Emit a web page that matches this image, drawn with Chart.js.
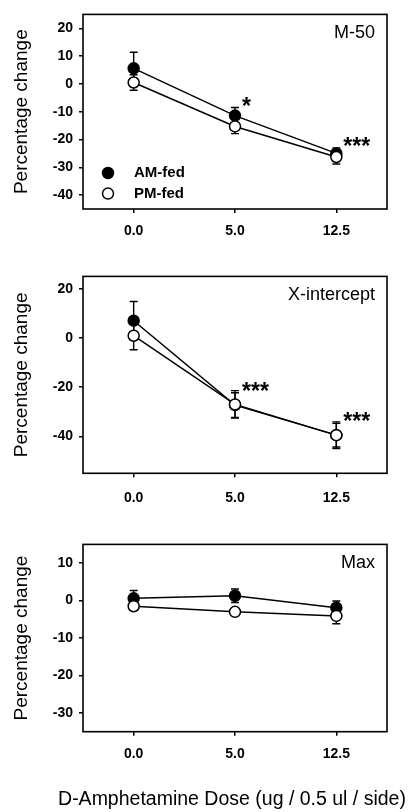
<!DOCTYPE html>
<html>
<head>
<meta charset="utf-8">
<script src="https://cdn.jsdelivr.net/npm/chart.js@4"></script>
<style>
  body { margin: 0; background: #fff; width: 408px; height: 812px; overflow: hidden; position: relative; }
  canvas { position: absolute; left: 0; }
</style>
</head>
<body>
<canvas id="m50" width="408" height="262" style="top:0px"></canvas>
<canvas id="xint" width="408" height="268" style="top:262px"></canvas>
<canvas id="max" width="408" height="282" style="top:530px"></canvas>
<script>
const doses = ['0.0', '5.0', '12.5'];
const groups = ['AM-fed', 'PM-fed'];
const xTitle = 'D-Amphetamine Dose (ug / 0.5 ul / side)';

// M-50
const m50AM = [5.6, -11.4, -25.0];
const m50AMErr = [5.8, 2.9, 2.0];
const m50PM = [0.5, -15.3, -26.3];
const m50PMErr = [2.8, 2.6, 2.5];
const m50Sig = ['', '*', '***'];
const m50Ticks = [-40, -30, -20, -10, 0, 10, 20];

// X-intercept
const xintAM = [7.0, -27.3, -39.5];
const xintAMErr = [7.8, 5.0, 4.8];
const xintPM = [0.9, -27.0, -39.5];
const xintPMErr = [5.7, 5.6, 5.4];
const xintSig = ['', '***', '***'];
const xintTicks = [-40, -20, 0, 20];

// Max
const maxAM = [0.6, 1.3, -1.9];
const maxAMErr = [2.1, 1.8, 1.8];
const maxPM = [-1.5, -3.0, -4.1];
const maxPMErr = [0.8, 0.8, 2.1];
const maxSig = ['', '', ''];
const maxTicks = [-30, -20, -10, 0, 10];

const FONT = '"Liberation Sans", Arial, sans-serif';

const errorBars = {
  id: 'errorBars',
  beforeDatasetsDraw(chart) {
    const { ctx, scales: { x, y } } = chart;
    ctx.save();
    ctx.strokeStyle = '#000';
    ctx.lineWidth = 1.4;
    chart.data.datasets.forEach(ds => {
      ds.errors.forEach((e, j) => {
        const px = x.getPixelForValue(j);
        const top = y.getPixelForValue(ds.data[j] + e);
        const bot = y.getPixelForValue(ds.data[j] - e);
        ctx.beginPath();
        ctx.moveTo(px, top); ctx.lineTo(px, bot);
        ctx.moveTo(px - 4, top); ctx.lineTo(px + 4, top);
        ctx.moveTo(px - 4, bot); ctx.lineTo(px + 4, bot);
        ctx.stroke();
      });
    });
    ctx.restore();
  }
};

const extras = {
  id: 'extras',
  afterDraw(chart, args, opts) {
    const { ctx, chartArea: a, scales: { x, y } } = chart;
    ctx.save();
    // frame
    ctx.strokeStyle = '#000';
    ctx.lineWidth = 1.6;
    ctx.strokeRect(a.left, a.top, a.right - a.left, a.bottom - a.top);
    // panel name
    ctx.fillStyle = '#000';
    ctx.font = '18px ' + FONT;
    ctx.textAlign = 'right';
    ctx.textBaseline = 'middle';
    ctx.fillText(opts.name, a.right - 12, a.top + 19);
    // significance marks above AM-fed error bars
    const am = chart.data.datasets[0];
    ctx.font = 'bold 23px ' + FONT;
    ctx.textAlign = 'left';
    ctx.textBaseline = 'alphabetic';
    opts.sig.forEach((s, j) => {
      if (!s) return;
      const px = x.getPixelForValue(j);
      const py = y.getPixelForValue(am.data[j] + am.errors[j]) - 6;
      ctx.fillText(s, px + 7, py + 12);
    });
    // legend
    if (opts.legend) {
      ctx.font = 'bold 15px ' + FONT;
      ctx.textBaseline = 'middle';
      chart.data.datasets.forEach((ds, i) => {
        const ly = a.bottom - 36 + i * 20.6;
        ctx.beginPath();
        ctx.arc(a.left + 25, ly, 5.5, 0, Math.PI * 2);
        ctx.fillStyle = ds.pointBackgroundColor;
        ctx.fill();
        ctx.lineWidth = 1.5;
        ctx.stroke();
        ctx.fillStyle = '#000';
        ctx.fillText(ds.label, a.left + 51, ly);
      });
    }
    // x axis title (drawn here so it is not squeezed to the axis width)
    if (opts.xTitle) {
      ctx.font = '19.5px ' + FONT;
      ctx.textAlign = 'center';
      ctx.textBaseline = 'alphabetic';
      ctx.fillText(opts.xTitle, (a.left + a.right) / 2 - 3, chart.height - 7);
    }
    ctx.restore();
  }
};

function makeChart(id, am, amErr, pm, pmErr, ticks, yMin, yMax, opts) {
  return new Chart(document.getElementById(id), {
    type: 'line',
    data: {
      labels: doses,
      datasets: [
        { label: groups[0], data: am, errors: amErr, order: 2,
          borderColor: '#000', pointBackgroundColor: '#000', pointBorderColor: '#000' },
        { label: groups[1], data: pm, errors: pmErr, order: 1,
          borderColor: '#000', pointBackgroundColor: '#fff', pointBorderColor: '#000' }
      ]
    },
    options: {
      responsive: false,
      animation: false,
      layout: { padding: { top: opts.top, right: 21, left: 0, bottom: 0 } },
      elements: {
        line: { borderWidth: 1.5, tension: 0 },
        point: { radius: 5.5, borderWidth: 1.5 }
      },
      plugins: {
        legend: { display: false },
        tooltip: { enabled: false },
        extras: { name: opts.name, sig: opts.sig, legend: opts.legend, xTitle: opts.xTitle }
      },
      scales: {
        x: {
          offset: true,
          afterFit: s => { s.height = opts.xHeight; },
          grid: { drawOnChartArea: false, tickLength: 4, color: '#000', lineWidth: 1.5 },
          border: { display: false },
          ticks: { color: '#000', padding: opts.xPad, font: { family: FONT, weight: 'bold', size: 14 } }
        },
        y: {
          min: yMin, max: yMax,
          afterBuildTicks: s => { s.ticks = ticks.map(v => ({ value: v })); },
          afterFit: s => { s.width = 83; },
          grid: { drawOnChartArea: false, tickLength: 4, color: '#000', lineWidth: 1.5 },
          border: { display: false },
          ticks: { color: '#000', padding: 6, font: { family: FONT, weight: 'bold', size: 14 } },
          title: {
            display: true, text: 'Percentage change', color: '#000',
            font: { family: FONT, size: 19 }, padding: { top: 10.6, bottom: 0 }
          }
        }
      }
    },
    plugins: [errorBars, extras]
  });
}

makeChart('m50', m50AM, m50AMErr, m50PM, m50PMErr, m50Ticks, -45, 25,
  { name: 'M-50', sig: m50Sig, legend: true, top: 7, xHeight: 53, xPad: 10 });
makeChart('xint', xintAM, xintAMErr, xintPM, xintPMErr, xintTicks, -55, 25,
  { name: 'X-intercept', sig: xintSig, legend: false, top: 10.7, xHeight: 56.7, xPad: 12 });
makeChart('max', maxAM, maxAMErr, maxPM, maxPMErr, maxTicks, -35, 15,
  { name: 'Max', sig: maxSig, legend: false, top: 10, xHeight: 80.3, xPad: 10, xTitle: xTitle });
</script>
</body>
</html>
